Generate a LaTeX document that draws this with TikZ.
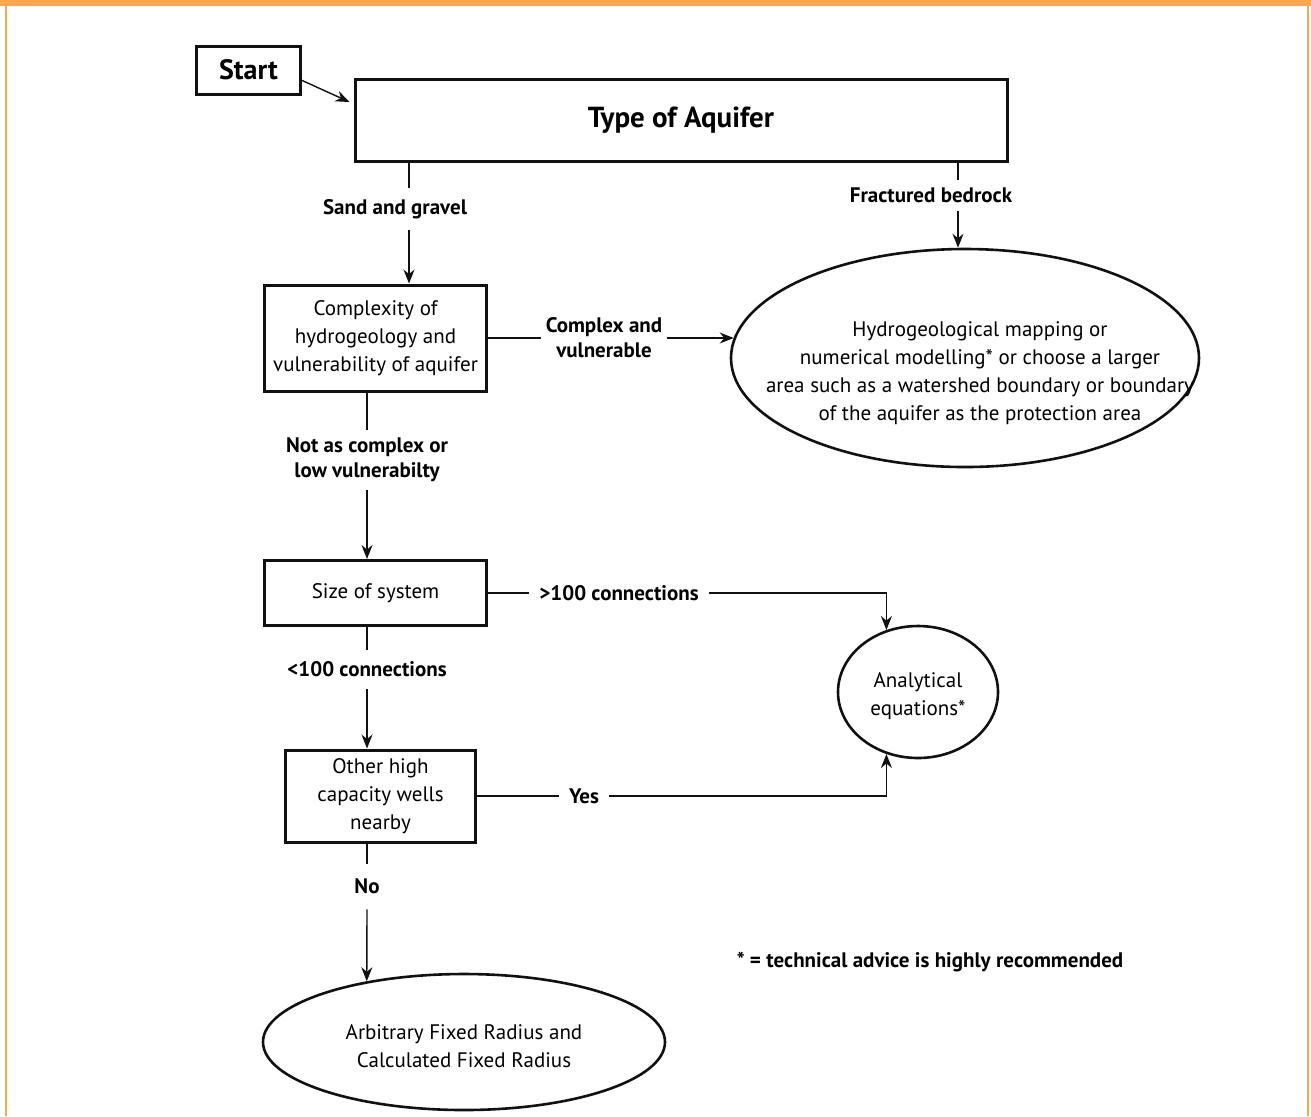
\documentclass[tikz,border=0pt]{standalone}
\usepackage{fontspec}
\setmainfont{PT Sans}
\usetikzlibrary{arrows.meta,shapes.geometric}
\definecolor{framebar}{HTML}{FAA84C}
\definecolor{ink}{HTML}{111111}

\begin{document}
\begin{tikzpicture}[x=0.5pt,y=-0.5pt,
  box/.style={draw=ink, line width=1.5pt, fill=white, align=center, font=\fontsize{10.5}{14}\selectfont, inner sep=2pt},
  oval/.style={ellipse, draw=ink, line width=1.3pt, inner sep=0pt},
  ovaltext/.style={align=center, font=\fontsize{10.5}{14}\selectfont, inner sep=0pt},
  lbl/.style={font=\bfseries\fontsize{10.5}{12.5}\selectfont, align=center, inner xsep=5pt, inner ysep=0pt},
  link/.style={draw=ink, line width=0.7pt},
  arr/.style={link, -{Stealth[length=7pt,width=5.5pt]}}
]
  \useasboundingbox (0,0) rectangle (1311,1116);
  \fill[framebar] (0,0) rectangle (1311,5.5);
  \draw[framebar, line width=1pt] (5.5,0) -- (5.5,1116) (1308,0) -- (1308,1116);

  \node[box, minimum width=52pt, minimum height=24pt, font=\bfseries\fontsize{14}{16}\selectfont] (start) at (248.5,70) {Start};
  \node[box, minimum width=326pt, minimum height=41pt, font=\bfseries\fontsize{14.5}{16}\selectfont] (aquifer) at (681,120) {Type of Aquifer};
  \node[box, minimum width=111pt, minimum height=53pt] (complexity) at (375.5,338) {Complexity of\\hydrogeology and\\vulnerability of aquifer};
  \node[box, minimum width=111pt, minimum height=32.5pt] (size) at (375.5,593) {Size of system};
  \node[box, minimum width=95pt, minimum height=46pt] (other) at (380.5,796) {Other high\\capacity wells\\nearby};

  \node[oval, minimum width=234pt, minimum height=109pt] (mapping) at (965,358) {};
  \node[ovaltext] (mappingtxt) at (980,373) {Hydrogeological mapping or\\numerical modelling* or choose a larger\\area such as a watershed boundary or boundary\\of the aquifer as the protection area};
  \node[oval, minimum width=80pt, minimum height=66pt] (analytic) at (918,692) {};
  \node[ovaltext] (analytictxt) at (918,696) {Analytical\\equations*};
  \node[oval, minimum width=201pt, minimum height=68pt] (radius) at (464,1042) {};
  \node[ovaltext] (radiustxt) at (464,1046) {Arbitrary Fixed Radius and\\Calculated Fixed Radius};

  \coordinate (sandcol) at (409,0);
  \coordinate (rockcol) at (958,0);
  \node[lbl, minimum height=21pt] (sand) at (395,209) {Sand and gravel};
  \node[lbl, minimum height=15.5pt] (rock) at (931,195.5) {Fractured bedrock};
  \node[lbl, inner xsep=2pt] (cplx) at (604,338) {Complex and\\vulnerable};
  \node[lbl, minimum height=30pt] (notc) at (367,460) {Not as complex or\\low vulnerabilty};
  \node[lbl] (gt) at (619,593) {>100 connections};
  \node[lbl, minimum height=19.5pt] (lt) at (367,669.5) {<100 connections};
  \node[lbl] (yes) at (584,796) {Yes};
  \node[lbl, minimum height=22.5pt] (no) at (367,886.5) {No};
  \node[lbl] (note) at (930,962) {* = technical advice is highly recommended};

  \draw[arr] (start.-11) -- ([shift={(-2pt,9pt)}]aquifer.west);
  \draw[link] (aquifer.south -| sandcol) -- (sand.north -| sandcol);
  \draw[arr] (sand.south -| sandcol) -- (complexity.north -| sandcol);
  \draw[link] (aquifer.south -| rockcol) -- (rock.north -| rockcol);
  \draw[arr] (rock.south -| rockcol) -- (mapping.north -| rockcol);
  \draw[link] (complexity.east) -- (cplx.west);
  \draw[arr] (cplx.east) -- (cplx.east -| mapping.175);
  \draw[link] (complexity.south -| notc) -- (notc.north);
  \draw[arr] (notc.south) -- (size.north -| notc);
  \draw[link] (size.east) -- (gt.west);
  \draw[arr] (gt.east) -| (analytic.117);
  \draw[link] (size.south -| lt) -- (lt.north);
  \draw[arr] (lt.south) -- (other.north -| lt);
  \draw[link] (other.east) -- (yes.west);
  \draw[arr] (yes.east) -| (analytic.243);
  \draw[link] (other.south -| no) -- (no.north);
  \draw[arr] (no.south) -- (radius.148);
\end{tikzpicture}
\end{document}
